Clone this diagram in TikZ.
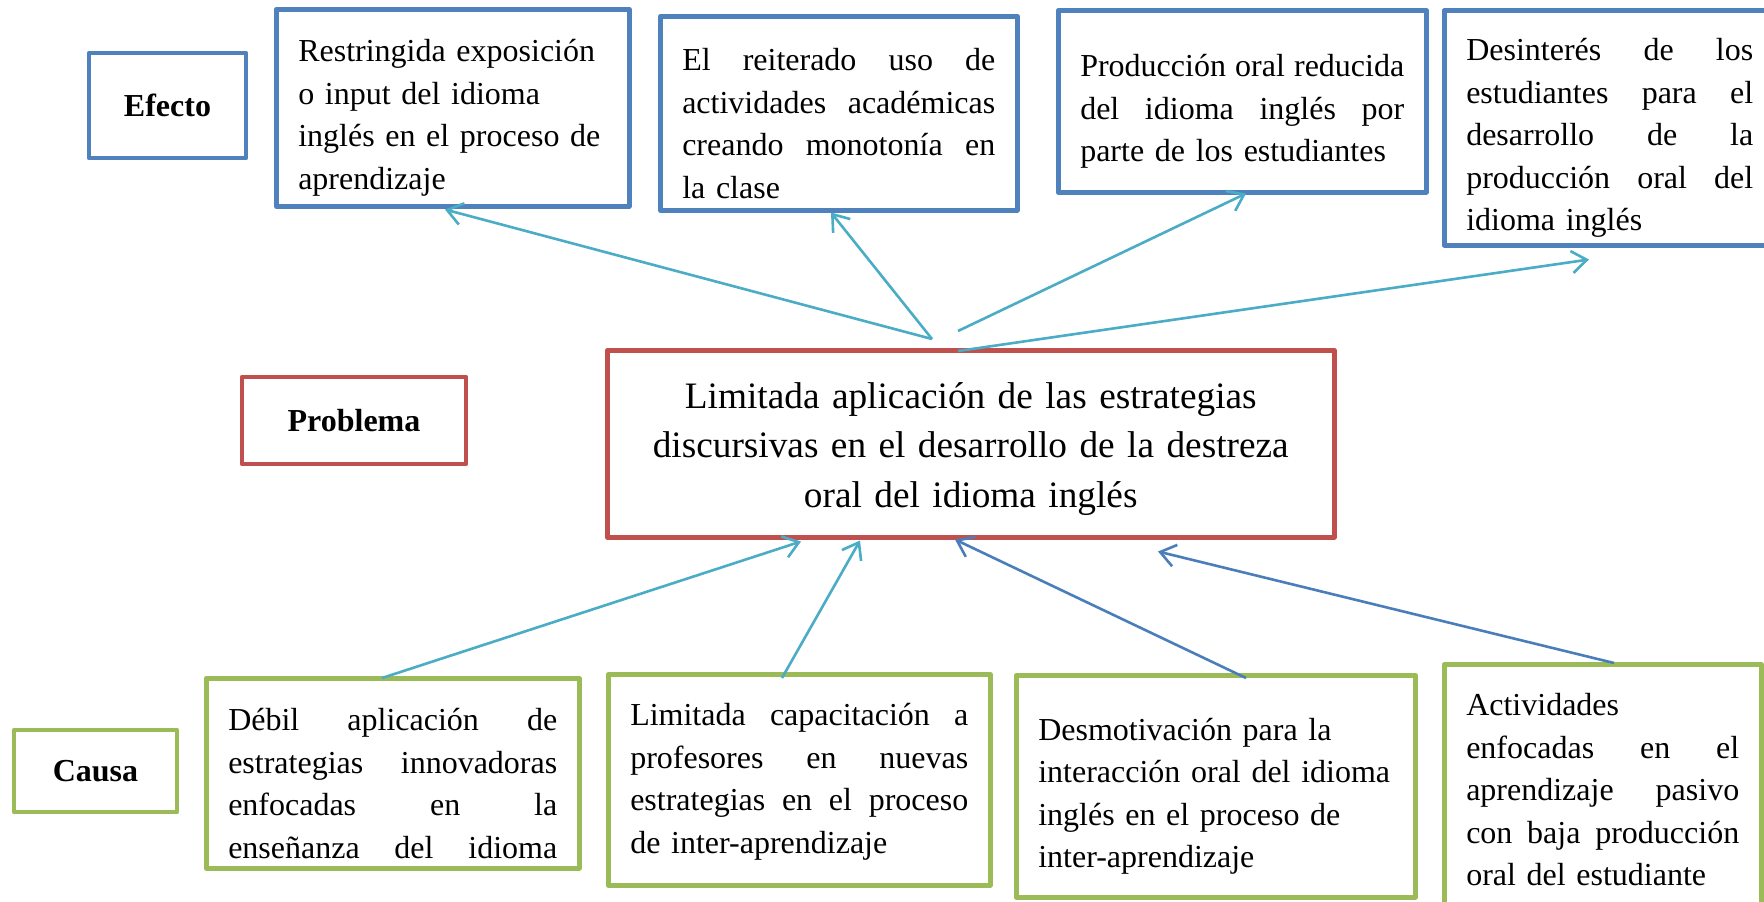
\documentclass[tikz,border=0pt]{standalone}
\usepackage{fontspec}
\setmainfont{Liberation Serif}
\usetikzlibrary{arrows.meta,calc}
\definecolor{boxblue}{HTML}{4F81BD}
\definecolor{boxred}{HTML}{C0504D}
\definecolor{boxgreen}{HTML}{9BBB59}
\definecolor{arrcyan}{HTML}{4BACC6}
\definecolor{arrblue}{HTML}{4A7EBB}
\newcommand\jline[1]{\par\hbox to\hsize{\spaceskip=0.25em plus 1fil\relax #1}}
\newcommand\nline[1]{\par\hbox{#1}}
\newcommand\mline[1]{\par\hbox to\hsize{\hfil#1\hfil}}
\tikzset{
  box/.style={draw, line width=4.5pt, line join=round, anchor=north west,
    inner xsep=22pt, inner ysep=0pt, align=left,
    font=\fontsize{32}{42.5}\selectfont},
  lbl/.style={draw, line width=4.5pt, line join=round, inner sep=0pt,
    font=\fontsize{32}{38}\selectfont\bfseries},
  arr/.style={line width=2.6pt, -{Straight Barb[length=15pt,width=22pt]}},
  cyarr/.style={arr, draw=arrcyan},
  blarr/.style={arr, draw=arrblue}
}
\begin{document}
\begin{tikzpicture}[x=1pt,y=-1pt]
\clip (0,0) rectangle (1764,902);
\fill[white] (0,0) rectangle (1764,902);
% labels
\node[lbl, draw=boxblue, minimum width=157pt, minimum height=105pt] (Lef) at (167.5,105.5) {Efecto};
\node[lbl, draw=boxred, minimum width=224pt, minimum height=87pt] (Lpr) at (354,420.5) {Problema};
\node[lbl, draw=boxgreen, minimum width=163pt, minimum height=82pt] (Lca) at (95.5,771) {Causa};
% effects
\node[box, draw=boxblue, text width=309pt, minimum width=353pt, minimum height=197pt] (E1) at (274,7) {%
  \nline{Restringida exposición}\nline{o input del idioma}\nline{inglés en el proceso de}\nline{aprendizaje}};
\node[box, draw=boxblue, text width=313pt, minimum width=357pt, minimum height=194pt] (E2) at (658,14) {%
  \jline{El reiterado uso de}\jline{actividades académicas}\jline{creando monotonía en}\nline{la clase}};
\node[box, draw=boxblue, text width=324pt, minimum width=368pt, minimum height=182pt] (E3) at (1056,8) {%
  \jline{Producción oral reducida}\jline{del idioma inglés por}\nline{parte de los estudiantes}};
\node[box, draw=boxblue, text width=287pt, minimum width=331pt, minimum height=235pt] (E4) at (1442,8) {%
  \jline{Desinterés de los}\jline{estudiantes para el}\jline{desarrollo de la}\jline{producción oral del}\nline{idioma inglés}};
% problem
\node[box, draw=boxred, text width=683pt, minimum width=727pt, minimum height=187pt,
  font=\fontsize{37.3}{49.5}\selectfont] (P) at (605,348) {%
  \mline{Limitada aplicación de las estrategias}\mline{discursivas en el desarrollo de la destreza}\mline{oral del idioma inglés\rule[-22pt]{0pt}{1pt}}};
% causes
\node[box, draw=boxgreen, text width=329pt, minimum width=373pt, minimum height=190pt] (C1) at (204,676) {%
  \jline{Débil aplicación de}\jline{estrategias innovadoras}\jline{enfocadas en la}\jline{enseñanza del idioma}};
\node[box, draw=boxgreen, text width=338pt, minimum width=382pt, minimum height=211pt] (C2) at (606,672) {%
  \jline{Limitada capacitación a}\jline{profesores en nuevas}\jline{estrategias en el proceso}\nline{de inter-aprendizaje\rule[-23pt]{0pt}{1pt}}};
\node[box, draw=boxgreen, text width=355pt, minimum width=399pt, minimum height=222pt] (C3) at (1014,673) {%
  \nline{Desmotivación para la}\nline{interacción oral del idioma}\nline{inglés en el proceso de}\nline{inter-aprendizaje}};
\node[box, draw=boxgreen, text width=273pt, minimum width=317pt, minimum height=350pt] (C4) at (1442,662) {%
  \nline{Actividades}\jline{enfocadas en el}\jline{aprendizaje pasivo}\jline{con baja producción}\nline{oral del estudiante\rule[-120pt]{0pt}{1pt}}};
% connectors: problem -> effects
\draw[cyarr] ($(P.north west)+(327,-9)$) -- ($(E1.south west)+(171,1)$);
\draw[cyarr] ($(P.north west)+(327,-9)$) -- ($(E2.south west)+(173,0)$);
\draw[cyarr] ($(P.north west)+(353,-17)$) -- ($(E3.south west)+(190,-1)$);
\draw[cyarr] ($(P.north west)+(353,3)$) -- ($(E4.south west)+(147,12)$);
% causes -> problem
\draw[cyarr] ($(C1.north west)+(178,2)$) -- ($(P.south west)+(196,2)$);
\draw[cyarr] ($(C2.north west)+(176,6)$) -- ($(P.south west)+(255,1)$);
\draw[blarr] ($(C3.north west)+(232,5)$) -- ($(P.south west)+(350,0)$);
\draw[blarr] ($(C4.north west)+(172,1)$) -- ($(P.south west)+(553,12)$);
\end{tikzpicture}
\end{document}
